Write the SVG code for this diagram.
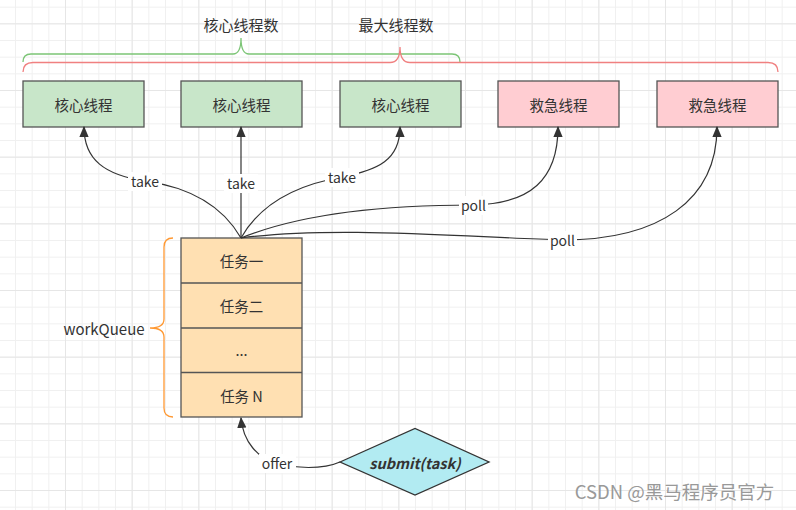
<svg xmlns="http://www.w3.org/2000/svg" width="796" height="510" viewBox="0 0 796 510">
<defs>
<pattern id="minor" patternUnits="userSpaceOnUse" x="-1.67" y="6.67" width="16.667" height="16.667">
<path d="M0 0.5H16.667M0.5 0V16.667" fill="none" stroke="#f0f0f0" stroke-width="1"/>
</pattern>
<pattern id="major" patternUnits="userSpaceOnUse" x="-1.67" y="23.33" width="66.667" height="66.667">
<path d="M0 0.5H66.667M0.5 0V66.667" fill="none" stroke="#e6e6e6" stroke-width="1"/>
</pattern>
<marker id="arr" viewBox="0 0 10 10" refX="9" refY="5" markerWidth="11" markerHeight="11" markerUnits="userSpaceOnUse" orient="auto">
<path d="M0 0.8L10 5L0 9.2Z" fill="#333"/>
</marker>
<style>
.t{font-family:"Noto Sans CJK SC","Liberation Sans",sans-serif;font-size:14.5px;fill:#333;text-anchor:middle;dominant-baseline:central}
.lbl{font-family:"Noto Sans CJK SC","Liberation Sans",sans-serif;font-size:14px;fill:#333;text-anchor:middle;dominant-baseline:central}
.bg{fill:#fff}
.edge{fill:none;stroke:#333;stroke-width:1.2}
.core{fill:#c8e6c9;stroke:#555;stroke-width:1.3}
.rescue{fill:#ffcdd2;stroke:#555;stroke-width:1.3}
.q{fill:#ffe0b2;stroke:#555;stroke-width:1.3}
</style>
</defs>
<rect width="796" height="510" fill="#fff"/>
<rect width="796" height="510" fill="url(#minor)"/>
<rect width="796" height="510" fill="url(#major)"/>

<g id="braces" fill="none" stroke-width="1.3">
<path d="M23 62Q23 54 31 54H233Q241 54 241 38Q241 54 249 54H452Q460 54 460 62" stroke="#7cc576"/>
<path d="M23 72Q23 62.5 33 62.5H390Q400 62.5 400 47Q400 62.5 410 62.5H768Q778 62.5 778 72" stroke="#f08080"/>
<path d="M173 238Q164 238 164 247V319Q164 328 150 328Q164 328 164 337V408Q164 417 173 417" stroke="#ff9933"/>
</g>
<g id="brace-labels">
<text class="t" x="241" y="24" style="font-size:15px">核心线程数</text>
<text class="t" x="396" y="24" style="font-size:15px">最大线程数</text>
<text class="t" x="104" y="328" style="font-size:15px">workQueue</text>
</g>

<g id="core1"><rect class="core" x="23" y="81" width="121" height="46"/><text class="t" x="83.5" y="104">核心线程</text></g>
<g id="core2"><rect class="core" x="181" y="81" width="121" height="46"/><text class="t" x="241.5" y="104">核心线程</text></g>
<g id="core3"><rect class="core" x="340" y="81" width="121" height="46"/><text class="t" x="400.5" y="104">核心线程</text></g>
<g id="rescue1"><rect class="rescue" x="498" y="81" width="121" height="46"/><text class="t" x="558.5" y="104">救急线程</text></g>
<g id="rescue2"><rect class="rescue" x="657" y="81" width="121" height="46"/><text class="t" x="717.5" y="104">救急线程</text></g>

<g id="workQueue">
<rect class="q" x="181" y="238" width="121" height="179"/>
<path d="M181 283H302M181 328H302M181 372.5H302" stroke="#555" stroke-width="1.3"/>
<text class="t" x="241.5" y="260">任务一</text>
<text class="t" x="241.5" y="305">任务二</text>
<text class="t" x="241.5" y="349">...</text>
<text class="t" x="241.5" y="395">任务 N</text>
</g>

<g id="submit">
<path d="M340 462L415 428.5L489 462L415 495Z" fill="#b2ebf2" stroke="#333" stroke-width="1.3"/>
<text class="t" x="415" y="462" style="font-weight:bold;font-style:italic">submit(task)</text>
</g>

<g id="connectors">
<path class="edge" marker-end="url(#arr)" d="M241 238C225 210 195 188 145 181C105 175 84 160 84 127"/>
<path class="edge" marker-end="url(#arr)" d="M241 238V127"/>
<path class="edge" marker-end="url(#arr)" d="M241 238C258 208 290 186 342 177C378 170 400 160 400 127"/>
<path class="edge" marker-end="url(#arr)" d="M241 238C300 214 380 205 473 205C530 204 558 180 558 127"/>
<path class="edge" marker-end="url(#arr)" d="M241 238C330 226 450 236 562 240C660 240 717 200 717 127"/>
<path class="edge" marker-end="url(#arr)" d="M340 462C322 470 295 468 277 464C258 458 243 442 241 418"/>
<rect class="bg" x="128" y="172" width="34" height="19"/>
<text class="lbl" x="145" y="181">take</text>
<rect class="bg" x="224" y="174" width="34" height="19"/>
<text class="lbl" x="241" y="183">take</text>
<rect class="bg" x="325" y="168" width="34" height="19"/>
<text class="lbl" x="342" y="177">take</text>
<rect class="bg" x="459" y="196" width="29" height="19"/>
<text class="lbl" x="473.5" y="205">poll</text>
<rect class="bg" x="548" y="231" width="29" height="19"/>
<text class="lbl" x="562.5" y="240">poll</text>
<rect class="bg" x="259" y="454" width="37" height="19"/>
<text class="lbl" x="277" y="463">offer</text>
</g>

<text x="674.5" y="491" style="font-family:'Noto Sans CJK SC','Liberation Sans',sans-serif;font-size:18.5px;fill:#999;text-anchor:middle;dominant-baseline:central">CSDN @黑马程序员官方</text>
</svg>
